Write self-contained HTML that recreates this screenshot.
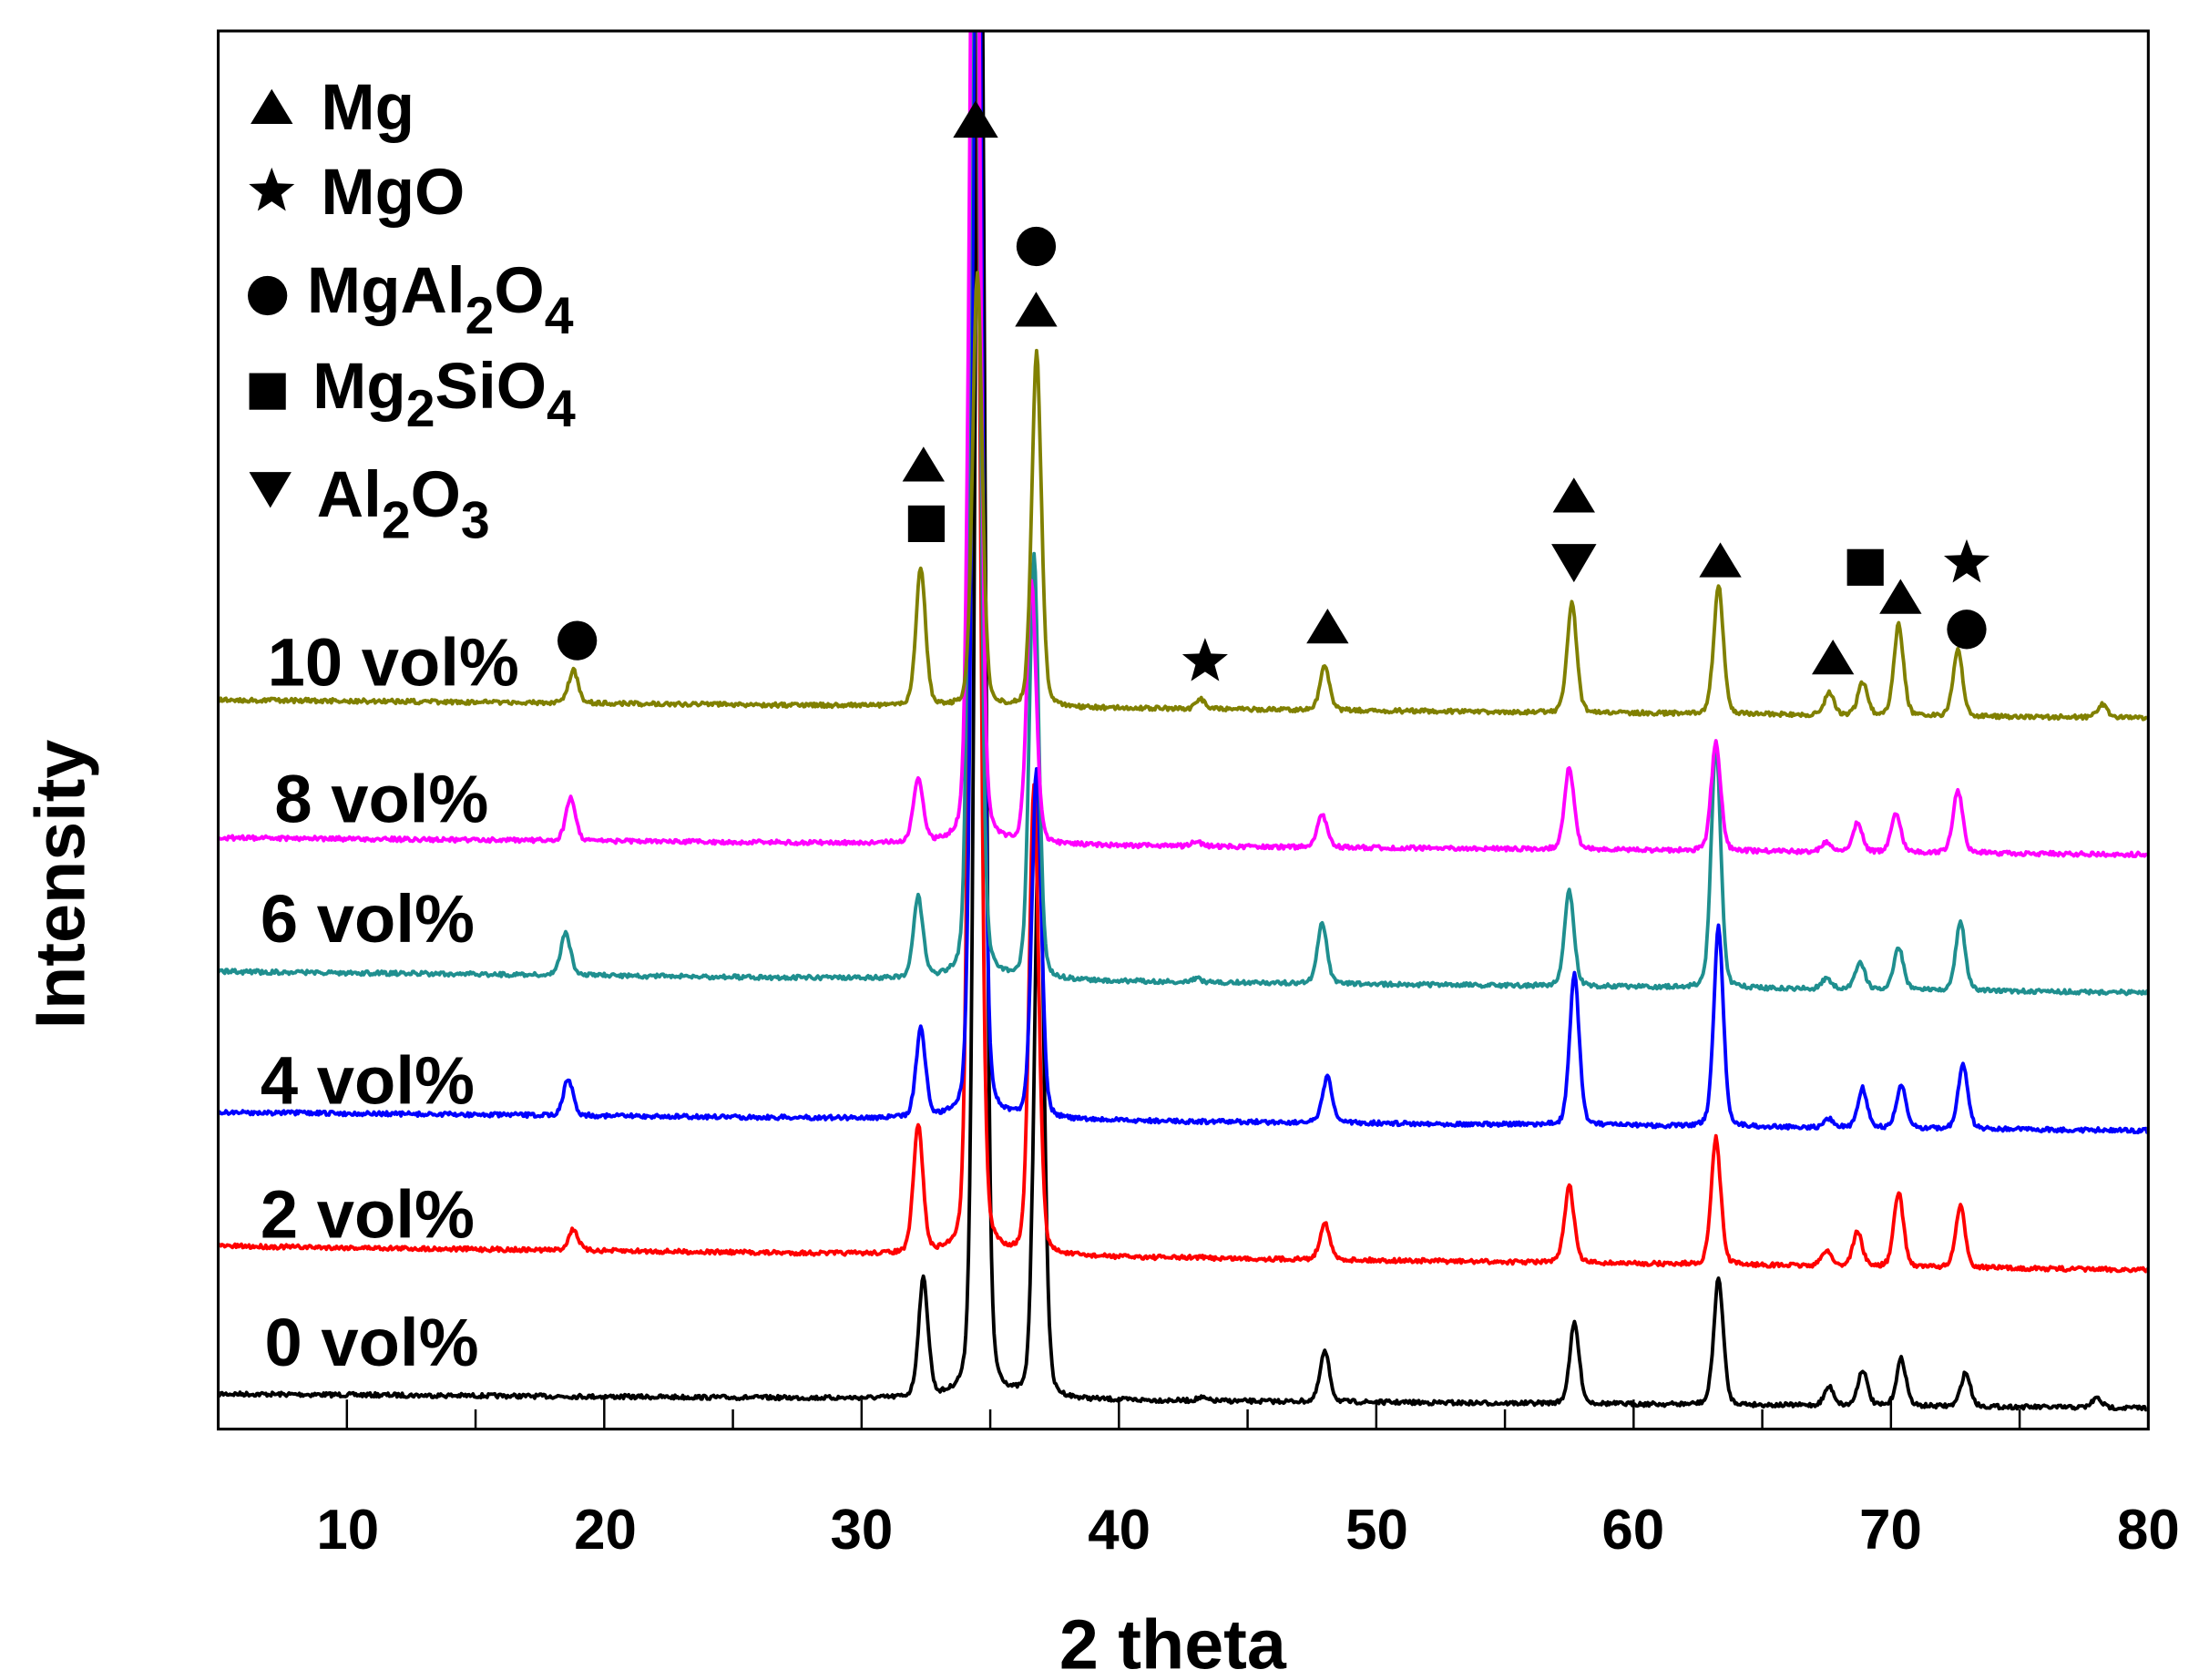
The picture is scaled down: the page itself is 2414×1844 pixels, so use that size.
<!DOCTYPE html>
<html><head><meta charset="utf-8"><style>
html,body{margin:0;padding:0;background:#fff;}
svg{display:block;}
text{font-family:"Liberation Sans",Arial,sans-serif;font-weight:bold;fill:#000;}
</style></head><body>
<svg id="s" width="2414" height="1844" viewBox="0 0 1562 1193.2" xmlns="http://www.w3.org/2000/svg">
<defs><clipPath id="c"><rect x="156" y="23" width="1369" height="991"/></clipPath></defs>
<g id="series" clip-path="url(#c)"></g>
<rect x="155" y="22" width="1371" height="993" fill="none" stroke="#000" stroke-width="2"/>
<g id="ticks" stroke="#000" stroke-width="1.6"></g>
<g font-size="40">
<text x="247" y="1100" text-anchor="middle">10</text>
<text x="430" y="1100" text-anchor="middle">20</text>
<text x="612" y="1100" text-anchor="middle">30</text>
<text x="795" y="1100" text-anchor="middle">40</text>
<text x="978" y="1100" text-anchor="middle">50</text>
<text x="1160" y="1100" text-anchor="middle">60</text>
<text x="1343" y="1100" text-anchor="middle">70</text>
<text x="1526" y="1100" text-anchor="middle">80</text>
</g>
<text x="833" y="1185" font-size="50" text-anchor="middle">2 theta</text>
<text transform="translate(60,628) rotate(-90)" font-size="50" text-anchor="middle">Intensity</text>
<g font-size="48">
<text x="190" y="487">10 vol%</text>
<text x="195" y="584">8 vol%</text>
<text x="185" y="669">6 vol%</text>
<text x="185" y="784">4 vol%</text>
<text x="185" y="879">2 vol%</text>
<text x="188" y="970">0 vol%</text>
</g>
<g font-size="46">
<text x="228" y="92">Mg</text>
<text x="228" y="152">MgO</text>
<text x="218" y="222">MgAl<tspan font-size="37" dy="15">2</tspan><tspan dy="-15">O</tspan><tspan font-size="37" dy="15">4</tspan></text>
<text x="222" y="290">Mg<tspan font-size="37" dy="13">2</tspan><tspan dy="-13">SiO</tspan><tspan font-size="37" dy="13">4</tspan></text>
<text x="225" y="367">Al<tspan font-size="37" dy="15">2</tspan><tspan dy="-15">O</tspan><tspan font-size="37" dy="15">3</tspan></text>
</g>
<g id="marks" fill="#000"></g>
</svg>
<script>
var X=function(t){return 155+(t-5)*18.28;};
var ticks=document.getElementById('ticks'),h='';
for(var t=10;t<=75;t+=5){var x=X(t);h+='<line x1="'+x+'" y1="1015" x2="'+x+'" y2="'+(t%10==0?994:1001)+'"/>';}
ticks.innerHTML=h;
var S=[
['#808000',497,510,[[18.8,476],[32.3,403],[34.5,195],[36.8,250],[43.2,497],[48,473],[57.6,428],[63.3,415],[67.6,492],[68.9,485],[70.3,443],[72.6,462],[78.2,500]]],
['#ff00ff',595,607,[[18.7,566],[32.2,553],[34.4,-300],[36.6,414],[43,598],[47.9,578],[57.5,545],[63.2,527],[67.5,598],[68.7,584],[70.2,578],[72.6,561]]],
['#1f8f8f',690,705,[[18.5,662],[32.2,638],[34.4,-200],[36.7,396],[43,695],[47.9,655],[57.5,633],[63.2,528],[67.5,695],[68.8,683],[70.3,673],[72.7,655]]],
['#0000ff',790,803,[[18.6,766],[32.3,732],[34.5,-200],[36.8,547],[43,797],[48.1,765],[57.7,692],[63.3,658],[67.6,795],[68.9,773],[70.4,771],[72.8,756]]],
['#ff0000',885,902,[[18.8,873],[32.2,800],[34.4,-200],[36.7,560],[43,893],[48,868],[57.5,842],[63.2,808],[67.5,888],[68.7,875],[70.3,847],[72.7,857]]],
['#000000',990,1000,[[32.4,910],[34.6,-200],[36.9,580],[43.2,993],[48,960],[57.7,940],[63.3,908],[67.6,985],[68.9,973],[70.4,965],[72.9,975],[78,993]]]
];
var seed=7;function rnd(){seed=(seed*16807)%2147483647;return seed/2147483647;}
var g='';
S.slice().reverse().forEach(function(s){
 var d='';
 for(var t=5;t<=80;t+=0.05){
  var base=s[1]+(s[2]-s[1])*(t-5)/75;
  var y=base+(rnd()-0.5)*3;
  s[3].forEach(function(p){var a=base-p[1];var w=0.19;var u=(t-p[0])/w;y-=a*(0.75*Math.exp(-u*u/2)+0.25/(1+u*u));});
  d+=(d?'L':'M')+X(t).toFixed(1)+' '+y.toFixed(1);
 }
 g+='<path d="'+d+'" fill="none" stroke="'+s[0]+'" stroke-width="2.5" stroke-linejoin="round"/>';
});
document.getElementById('series').innerHTML=g;
function tri(x,y,r){return '<polygon points="'+(x-r)+','+(y+r*0.8)+' '+(x+r)+','+(y+r*0.8)+' '+x+','+(y-r*0.85)+'"/>';}
function dtri(x,y,r){return '<polygon points="'+(x-r)+','+(y-r*0.85)+' '+(x+r)+','+(y-r*0.85)+' '+x+','+(y+r*0.85)+'"/>';}
function cir(x,y){return '<circle cx="'+x+'" cy="'+y+'" r="14"/>';}
function sq(x,y){return '<rect x="'+(x-13)+'" y="'+(y-13)+'" width="26" height="26"/>';}
function star(x,y){var r=17,p=[];for(var i=0;i<10;i++){var a=-Math.PI/2+i*Math.PI/5,rr=i%2?r*0.42:r;p.push((x+rr*Math.cos(a)).toFixed(1)+','+(y+rr*Math.sin(a)).toFixed(1));}return '<polygon points="'+p.join(' ')+'"/>';}
var m='';
m+=tri(193,76,15)+star(193,136)+cir(190,210)+sq(190,278)+dtri(192,348,15);
m+=tri(693,85,16)+cir(736,175)+tri(736,220,15)+tri(656,330,15)+sq(658,372)+cir(410,455)+star(856,470)+tri(943,445,15)+tri(1118,352,15)+dtri(1118,400,16)+tri(1222,398,15)+sq(1325,403)+tri(1350,424,15)+star(1397,400)+cir(1397,447)+tri(1302,467,15);
document.getElementById('marks').innerHTML=m;
</script>
</body></html>
